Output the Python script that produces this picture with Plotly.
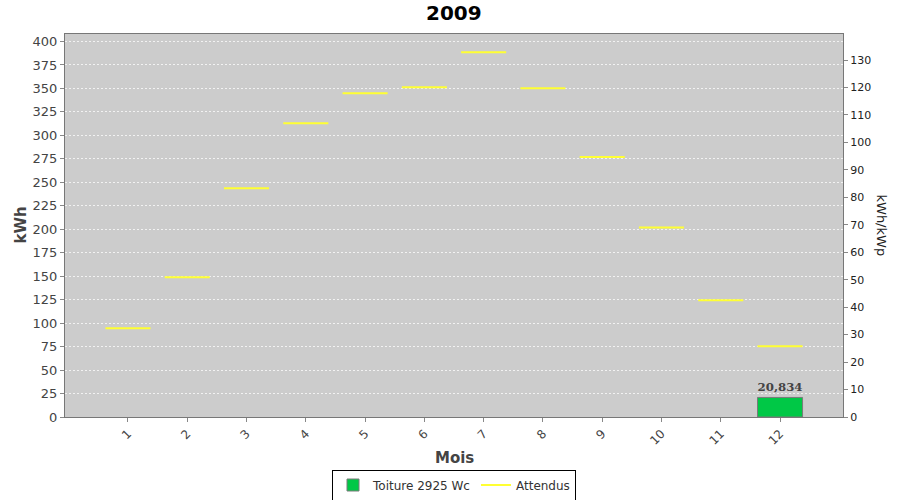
import plotly.graph_objects as go

months = list(range(1, 13))
month_labels = [str(m) for m in months]
production_kwh = [None] * 11 + [20.834]
production_text = [""] * 11 + ["20,834"]
expected_kwh = [94.5, 148.8, 243.7, 312.9, 344.9, 351.3, 388.6, 350.2, 277.0, 202.0, 124.3, 75.3]
peak_kwp = 2.925
y_max = 408

bar_width = 0.76
seg_x, seg_y = [], []
for m, v in zip(months, expected_kwh):
    seg_x += [m - bar_width / 2, m + bar_width / 2, None]
    seg_y += [v, v, None]

fig = go.Figure()
fig.add_trace(go.Bar(
    x=months, y=production_kwh, width=bar_width, name="Toiture 2925 Wc",
    marker=dict(color="#00c846", line=dict(color="#7a7a7a", width=1)),
    text=production_text, textposition="outside", cliponaxis=False,
    textfont=dict(family="DejaVu Serif", size=12, color="#444444", weight="bold"),
))
fig.add_trace(go.Scatter(
    x=seg_x, y=seg_y, mode="lines", name="Attendus",
    line=dict(color="#ffff33", width=2), connectgaps=False,
))
# invisible trace on the secondary axis (kWh/kWp)
fig.add_trace(go.Scatter(
    x=months, y=[v / peak_kwp for v in expected_kwh], yaxis="y2",
    mode="lines", line=dict(width=0, color="rgba(0,0,0,0)"),
    showlegend=False, hoverinfo="skip",
))

plot_h = 500 - 34 - 83
plot_w = 900 - 65 - 57

fig.update_layout(
    width=900, height=500,
    margin=dict(l=65, r=57, t=34, b=83, autoexpand=False),
    paper_bgcolor="white", plot_bgcolor="#cccccc",
    font=dict(family="DejaVu Sans", color="#444444"),
    showlegend=True,
    legend=dict(orientation="h", x=0.5, xanchor="center", y=-(485 - 417) / plot_h, yanchor="middle",
                bordercolor="black", borderwidth=1, bgcolor="white",
                font=dict(size=12, color="#333333"), itemwidth=30, tracegroupgap=0),
    xaxis=dict(
        range=[1 - 63 / 59.3, 12 + 63 / 59.3], tickmode="array", tickvals=months, ticktext=month_labels,
        tickangle=-45, ticks="outside", ticklen=4, tickcolor="#888888", automargin=False,
        showline=True, linecolor="#777777", linewidth=1, mirror=True, showgrid=False, zeroline=False,
        tickfont=dict(size=12, color="#444444"),
    ),
    yaxis=dict(
        range=[0, y_max], dtick=25, ticks="outside", ticklen=4, tickcolor="#888888", automargin=False,
        showline=True, linecolor="#777777", linewidth=1, mirror=True,
        showgrid=True, gridcolor="rgba(255,255,255,0.75)", griddash="2px,2px", gridwidth=1, zeroline=False,
        tickfont=dict(size=13, color="#444444"),
    ),
    yaxis2=dict(
        overlaying="y", side="right", range=[0, y_max / peak_kwp], dtick=10, automargin=False,
        ticks="outside", ticklen=4, tickcolor="#888888", showgrid=False, zeroline=False,
        showline=True, linecolor="#777777", tickfont=dict(size=11, color="#222222"),
    ),
    annotations=[
        dict(text="<b>2009</b>", xref="paper", yref="paper", x=0.5, y=1 + 21 / plot_h,
             xanchor="center", yanchor="middle", showarrow=False,
             font=dict(size=20, color="black")),
        dict(text="<b>Mois</b>", xref="paper", yref="paper", x=0.5, y=-41 / plot_h,
             xanchor="center", yanchor="middle", showarrow=False,
             font=dict(size=15, color="#444444")),
        dict(text="<b>kWh</b>", xref="paper", yref="paper", x=-45 / plot_w, y=0.5,
             xanchor="center", yanchor="middle", textangle=-90, showarrow=False,
             font=dict(size=15, color="#444444")),
        dict(text="kWh/kWp", xref="paper", yref="paper", x=1 + 38 / plot_w, y=0.5,
             xanchor="center", yanchor="middle", textangle=90, showarrow=False,
             font=dict(size=13, color="#222222")),
    ],
)

fig.write_html("out.html", config={"displayModeBar": False},
               post_script="document.body.style.margin='0';document.body.style.padding='0';document.body.style.overflow='hidden';")
